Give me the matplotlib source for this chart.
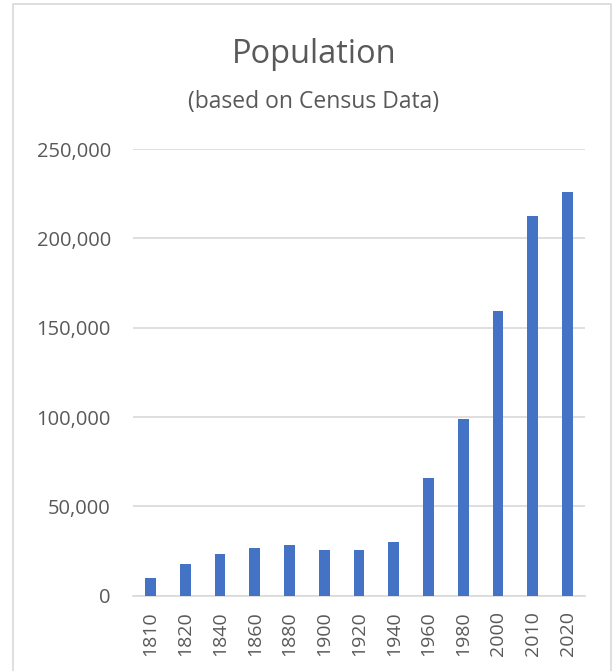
import matplotlib.pyplot as plt
from matplotlib.patches import Rectangle
from matplotlib.ticker import FuncFormatter

years = ["1810", "1820", "1840", "1860", "1880", "1900", "1920",
         "1940", "1960", "1980", "2000", "2010", "2020"]
population = [9950, 17800, 23300, 26800, 28500, 25700, 25850,
              30000, 65700, 98900, 159200, 212500, 225800]

plt.rcParams["font.family"] = ["Open Sans", "DejaVu Sans"]
text_color = "#595959"
grid_color = "#d9d9d9"
bar_color = "#4472c4"

W, H = 615, 671
fig = plt.figure(figsize=(W / 100, H / 100), dpi=100)

# chart frame
fig.patches.append(Rectangle((13 / W, -0.05), (611 - 13) / W, 1.05 - 4 / H,
                             transform=fig.transFigure, fill=False,
                             edgecolor=grid_color, linewidth=1.2))

# plot area in pixels
left, right, top, bottom = 133, 585, 149, 595.7
ax = fig.add_axes([left / W, 1 - bottom / H, (right - left) / W, (bottom - top) / H])

x = range(len(years))
ax.bar(x, population, width=0.31, color=bar_color, zorder=3)
ax.set_xlim(-0.5, len(years) - 0.5)
ax.set_ylim(0, 250000)
ax.set_yticks(range(0, 250001, 50000))
ax.yaxis.set_major_formatter(FuncFormatter(lambda v, p: f"{int(v):,}"))
ax.set_xticks(list(x))
ax.set_xticklabels(years, rotation=90)

ax.grid(axis="y", color=grid_color, linewidth=1.2, zorder=0)
for s in ["top", "right", "left"]:
    ax.spines[s].set_visible(False)
ax.spines["bottom"].set_color(grid_color)
ax.spines["bottom"].set_linewidth(1.2)
ax.tick_params(axis="both", length=0, colors=text_color)
ax.tick_params(axis="y", pad=16, labelsize=14.5)
ax.tick_params(axis="x", pad=11, labelsize=14)

cx = 314 / W
fig.text(cx, 1 - 63 / H, "Population", ha="center", va="baseline",
         fontsize=23.5, color=text_color)
fig.text(cx, 1 - 108 / H, "(based on Census Data)", ha="center",
         va="baseline", fontsize=16.5, color=text_color)

fig.savefig("out.png", dpi=100)
